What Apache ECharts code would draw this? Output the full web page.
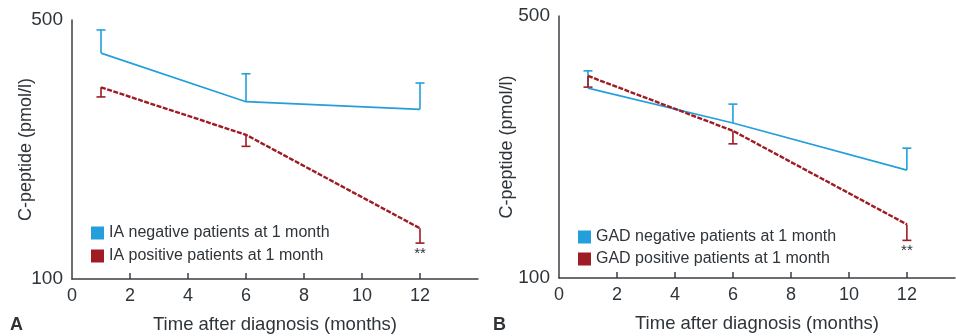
<!DOCTYPE html>
<html>
<head>
<meta charset="utf-8">
<script src="https://cdn.jsdelivr.net/npm/echarts@6/dist/echarts.min.js"></script>
<style>
  html, body { margin: 0; padding: 0; background: #fff; }
  #chart { width: 956px; height: 336px; }
</style>
</head>
<body>
<div id="chart"></div>
<script>
// months after diagnosis
const months = [1, 6, 12];
const xLabelValues = [0, 2, 4, 6, 8, 10, 12];
const xTickValues = [2, 4, 6, 8, 10, 12];

// panel A - islet antibodies (IA), C-peptide pmol/l
const iaNeg = [407, 301, 287];
const iaNegErr = [470, 358, 338];   // upper end of SE bar
const iaPos = [329, 245, 137];
const iaPosErr = [310, 228, 125];   // lower end of SE bar
const sigA = ['', '', '**'];

// panel B - GAD antibodies
const gadNeg = [321, 259, 194];
const gadNegErr = [357, 291, 222];
const gadPos = [346, 247, 139];
const gadPosErr = [323, 228, 126];
const sigB = ['', '', '**'];

const BLUE = '#239fdb';
const RED = '#9e1c23';
const TXT = '#2f3439';
const FONT = '"Liberation Sans", Arial, sans-serif';

function pts(vals) {
    return months.map((m, i) => [m, vals[i]]);
}
function errPts(vals, ends) {
    return months.map((m, i) => [m, vals[i], ends[i]]);
}

// draws one-sided error bar with a cap, optional significance mark under it
function makeErrRender(color, sig) {
    return function (params, api) {
        const p = api.coord([api.value(0), api.value(1)]);
        const e = api.coord([api.value(0), api.value(2)]);
        const w = 4.5;
        const style = { stroke: color, lineWidth: 1.6 };
        const children = [
            { type: 'line', shape: { x1: p[0], y1: p[1], x2: e[0], y2: e[1] }, style: style },
            { type: 'line', shape: { x1: e[0] - w, y1: e[1], x2: e[0] + w, y2: e[1] }, style: style }
        ];
        const s = sig && sig[params.dataIndex];
        if (s) {
            children.push({
                type: 'text',
                style: {
                    text: s, x: e[0], y: e[1] + 3,
                    fill: TXT, font: '15px ' + FONT,
                    align: 'center', verticalAlign: 'top'
                }
            });
        }
        return { type: 'group', children: children };
    };
}

function xAxisOpt(idx, max) {
    return {
        gridIndex: idx, type: 'value', min: 0, max: max,
        name: 'Time after diagnosis (months)',
        nameLocation: 'middle', nameGap: 36, nameMoveOverlap: false,
        nameTextStyle: { color: TXT, fontSize: 18.5, fontFamily: FONT },
        axisLine: { lineStyle: { color: '#3a3f44', width: 1.5 } },
        axisTick: { inside: true, length: 6, customValues: xTickValues, lineStyle: { color: '#3a3f44', width: 1.5 } },
        axisLabel: { customValues: xLabelValues, color: TXT, fontSize: 18, fontFamily: FONT, margin: 8 },
        splitLine: { show: false }
    };
}
function yAxisOpt(idx, gap) {
    return {
        gridIndex: idx, type: 'log', logBase: 10, min: 100, max: 500,
        name: 'C-peptide (pmol/l)',
        nameLocation: 'middle', nameGap: gap, nameMoveOverlap: false,
        nameTextStyle: { color: TXT, fontSize: 18, fontFamily: FONT },
        axisLine: { show: true, lineStyle: { color: '#3a3f44', width: 1.5 } },
        axisTick: { show: false },
        axisLabel: { color: TXT, fontSize: 19, fontFamily: FONT, margin: 9 },
        splitLine: { show: false },
        minorTick: { show: false }
    };
}
function lineSeries(name, data, idx, color, dashed) {
    return {
        name: name, type: 'line', data: data,
        xAxisIndex: idx, yAxisIndex: idx,
        symbol: 'none', itemStyle: { color: color },
        lineStyle: dashed ? { color: color, width: 2.4, type: [5, 1.5] } : { color: color, width: 1.6 },
        z: dashed ? 3 : 2
    };
}
function errSeries(data, idx, color, sig) {
    return {
        type: 'custom', data: data,
        xAxisIndex: idx, yAxisIndex: idx,
        renderItem: makeErrRender(color, sig),
        encode: { x: 0, y: [1, 2] },
        z: 2
    };
}

const chart = echarts.init(document.getElementById('chart'));
chart.setOption({
    animation: false,
    textStyle: { fontFamily: FONT },
    grid: [
        { left: 72, top: 20, width: 406, height: 259, outerBoundsMode: 'none' },
        { left: 559, top: 16, width: 396, height: 262, outerBoundsMode: 'none' }
    ],
    xAxis: [xAxisOpt(0, 14), xAxisOpt(1, 13.66)],
    yAxis: [yAxisOpt(0, 37), yAxisOpt(1, 43)],
    legend: [
        {
            left: 86, top: 220, orient: 'vertical', icon: 'rect',
            itemWidth: 13, itemHeight: 13, itemGap: 7,
            textStyle: { color: TXT, fontSize: 16, fontFamily: FONT },
            data: ['IA negative patients at 1 month', 'IA positive patients at 1 month']
        },
        {
            left: 573, top: 224, orient: 'vertical', icon: 'rect',
            itemWidth: 13, itemHeight: 13, itemGap: 6,
            textStyle: { color: TXT, fontSize: 16, fontFamily: FONT },
            data: ['GAD negative patients at 1 month', 'GAD positive patients at 1 month']
        }
    ],
    graphic: [
        { type: 'text', left: 10, top: 316, style: { text: 'A', font: 'bold 18px ' + FONT, fill: TXT } },
        { type: 'text', left: 493, top: 316, style: { text: 'B', font: 'bold 18px ' + FONT, fill: TXT } }
    ],
    series: [
        lineSeries('IA negative patients at 1 month', pts(iaNeg), 0, BLUE, false),
        errSeries(errPts(iaNeg, iaNegErr), 0, BLUE, null),
        lineSeries('IA positive patients at 1 month', pts(iaPos), 0, RED, true),
        errSeries(errPts(iaPos, iaPosErr), 0, RED, sigA),

        lineSeries('GAD negative patients at 1 month', pts(gadNeg), 1, BLUE, false),
        errSeries(errPts(gadNeg, gadNegErr), 1, BLUE, null),
        lineSeries('GAD positive patients at 1 month', pts(gadPos), 1, RED, true),
        errSeries(errPts(gadPos, gadPosErr), 1, RED, sigB)
    ]
});
</script>
</body>
</html>
